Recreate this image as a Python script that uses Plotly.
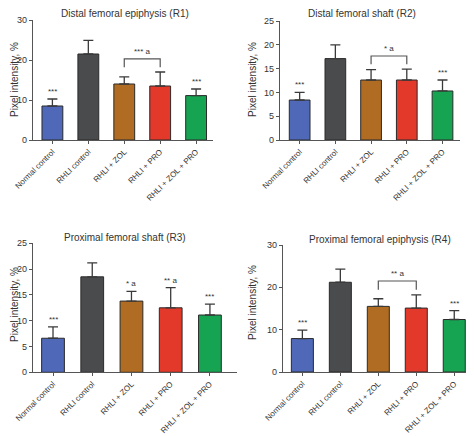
import plotly.graph_objects as go

categories = ["Normal control", "RHLI control", "RHLI + ZOL", "RHLI + PRO", "RHLI + ZOL + PRO"]
bar_colors = ["#4f68b8", "#4a4b4d", "#b06c22", "#e2392b", "#16a452"]

titles = ["Distal femoral epiphysis (R1)", "Distal femoral shaft (R2)",
          "Proximal femoral shaft (R3)", "Proximal femoral epiphysis (R4)"]
y_title = "Pixel intensity, %"

r1_mean = [8.5, 21.5, 14.0, 13.5, 11.1]
r1_sd = [1.75, 3.4, 1.8, 3.5, 1.65]
r2_mean = [8.4, 17.1, 12.6, 12.6, 10.3]
r2_sd = [1.6, 2.9, 2.2, 2.3, 2.3]
r3_mean = [6.6, 18.5, 13.8, 12.5, 11.1]
r3_sd = [2.2, 2.7, 1.9, 3.9, 2.1]
r4_mean = [7.9, 21.2, 15.5, 15.1, 12.4]
r4_sd = [2.0, 3.1, 1.8, 3.1, 2.1]

y_max = [30, 25, 25, 30]
y_dtick = [10, 5, 5, 10]

# significance labels: (bar index, text)
r1_stars = [(0, "***"), (4, "***")]
r2_stars = [(0, "***"), (4, "***")]
r3_stars = [(0, "***"), (2, "* a"), (3, "** a"), (4, "***")]
r4_stars = [(0, "***"), (4, "***")]
# brackets: (from bar, to bar, text)
r1_brackets = [(2, 3, "*** a")]
r2_brackets = [(2, 3, "* a")]
r3_brackets = []
r4_brackets = [(2, 3, "** a")]

means = [r1_mean, r2_mean, r3_mean, r4_mean]
sds = [r1_sd, r2_sd, r3_sd, r4_sd]
stars = [r1_stars, r2_stars, r3_stars, r4_stars]
brackets = [r1_brackets, r2_brackets, r3_brackets, r4_brackets]

# the page body keeps an 8px margin, so the figure fills the remaining area
OFF = 8
W, H = 474 - OFF, 436 - OFF


def px(x):
    return min(max((x - OFF) / W, 0.0), 1.0)


def py(y):
    return min(max(1 - (y - OFF) / H, 0.0), 1.0)


# panel geometry in screenshot pixels
panels = [
    dict(xl=33, xr=213, y0=140, yt=20, xrange=[-0.54, 4.47], tx=125, ty=14, yx=14, yy=80),
    dict(xl=280, xr=460, y0=140, yt=21, xrange=[-0.55, 4.49], tx=362, ty=14, yx=252, yy=80),
    dict(xl=33, xr=237, y0=372.3, yt=243.3, xrange=[-0.51, 4.69], tx=125, ty=237, yx=14, yy=305),
    dict(xl=283, xr=476, y0=372, yt=245, xrange=[-0.51, 4.52], tx=380, ty=240, yx=252, yy=303),
]

font_family = "Liberation Sans, Arial, sans-serif"
txt_color = "#333333"
axis_color = "#555555"

fig = go.Figure()
layout = dict(
    width=W, height=H, margin=dict(l=0, r=0, t=0, b=0, autoexpand=False),
    paper_bgcolor="white", plot_bgcolor="white", showlegend=False,
    font=dict(family=font_family, color=txt_color, size=10),
)
annotations = []
shapes = []

for k in range(4):
    p = panels[k]
    xa = "x" if k == 0 else f"x{k+1}"
    ya = "y" if k == 0 else f"y{k+1}"
    xkey = "xaxis" if k == 0 else f"xaxis{k+1}"
    ykey = "yaxis" if k == 0 else f"yaxis{k+1}"
    xs = list(range(len(categories)))
    fig.add_trace(go.Bar(
        x=xs, y=means[k], width=0.58,
        marker=dict(color=bar_colors, line=dict(color="#2a2a2a", width=1)),
        error_y=dict(type="data", symmetric=False, array=sds[k],
                     arrayminus=[0] * len(xs), color="#3a3a3a", thickness=1.3, width=5),
        xaxis=xa, yaxis=ya, hoverinfo="skip",
    ))
    layout[xkey] = dict(
        domain=[px(p["xl"]), px(p["xr"])], range=p["xrange"],
        anchor=ya, tickmode="array", tickvals=xs, ticktext=categories,
        tickangle=-45, ticks="outside", ticklen=3, tickcolor=axis_color,
        showline=True, linecolor=axis_color, linewidth=1.2, showgrid=False,
        zeroline=False, tickfont=dict(size=8, color=txt_color), automargin=False,
    )
    layout[ykey] = dict(
        domain=[py(p["y0"]), py(p["yt"])], range=[0, y_max[k]],
        anchor=xa, dtick=y_dtick[k], ticks="outside", ticklen=3, tickcolor=axis_color,
        showline=True, linecolor=axis_color, linewidth=1.2, showgrid=False,
        zeroline=False, tickfont=dict(size=9, color=txt_color), automargin=False,
    )
    annotations.append(dict(
        text=titles[k], x=px(p["tx"]), y=py(p["ty"]), xref="paper", yref="paper",
        xanchor="center", yanchor="middle", showarrow=False,
        font=dict(size=10, color=txt_color),
    ))
    annotations.append(dict(
        text=y_title, x=px(p["yx"]), y=py(p["yy"]), xref="paper", yref="paper",
        xanchor="center", yanchor="middle", showarrow=False, textangle=-90,
        font=dict(size=10, color=txt_color),
    ))
    tops = [m + s for m, s in zip(means[k], sds[k])]
    for (i, t) in stars[k]:
        annotations.append(dict(
            text=t, x=i, y=tops[i], xref=xa, yref=ya, xanchor="center",
            yanchor="bottom", yshift=1, showarrow=False,
            font=dict(size=8, color=txt_color),
        ))
    for (i, j, t) in brackets[k]:
        level = max(tops[i:j + 1]) + 0.11 * y_max[k]
        drop = 0.07 * y_max[k]
        shapes.append(dict(
            type="path", xref=xa, yref=ya,
            path=f"M {i},{level - drop} L {i},{level} L {j},{level} L {j},{level - drop}",
            line=dict(color=axis_color, width=1.2),
        ))
        annotations.append(dict(
            text=t, x=(i + j) / 2, y=level, xref=xa, yref=ya, xanchor="center",
            yanchor="bottom", yshift=1, showarrow=False,
            font=dict(size=8, color=txt_color),
        ))

layout["annotations"] = annotations
layout["shapes"] = shapes
fig.update_layout(**layout)
fig.write_html("out.html")
